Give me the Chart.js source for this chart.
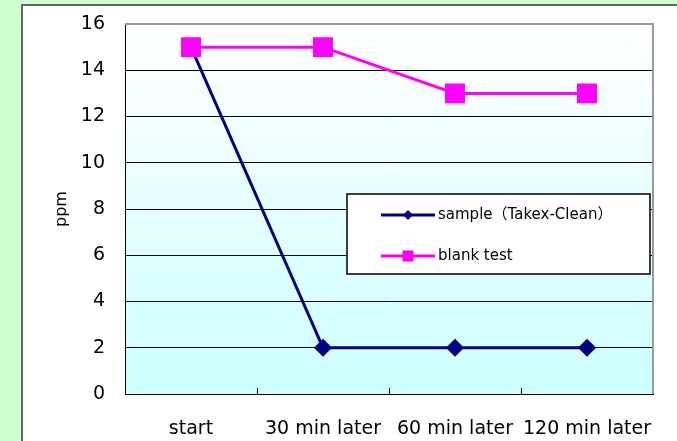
<!DOCTYPE html>
<html>
<head>
<meta charset="utf-8">
<script src="https://cdn.jsdelivr.net/npm/chart.js@4.4.0/dist/chart.umd.min.js"></script>
<style>
  html, body { margin: 0; padding: 0; background: #ccffcc; }
  #panel {
    position: absolute; left: 21px; top: 4px; width: 656px; height: 437px;
    background: #fff; border-left: 2px solid #666; border-top: 2px solid #666;
  }
  #wrap { position: absolute; left: 0; top: 0; width: 677px; height: 441px; }
</style>
</head>
<body>
<div id="panel"></div>
<div id="wrap"><canvas id="myChart" width="677" height="441"></canvas></div>
<script>
const categories = ['start', '30 min later', '60 min later', '120 min later'];
const sampleValues = [15, 2, 2, 2];
const blankValues = [15, 15, 13, 13];
const yTicks = [0, 2, 4, 6, 8, 10, 12, 14, 16];

const FONT = 'DejaVu Sans';

// fond dégradé de la zone du graphe + bord droit gris
const plotBg = {
  id: 'plotBg',
  beforeDraw(chart) {
    const { ctx, chartArea: a } = chart;
    const g = ctx.createLinearGradient(0, a.top, 0, a.bottom);
    g.addColorStop(0, '#ffffff');
    g.addColorStop(1, '#ccffff');
    ctx.save();
    ctx.fillStyle = g;
    ctx.fillRect(a.left, a.top, a.right - a.left, a.bottom - a.top);
    ctx.restore();
  },
  afterDraw(chart) {
    const { ctx, chartArea: a } = chart;
    ctx.save();
    ctx.strokeStyle = '#999';
    ctx.lineWidth = 2;
    ctx.beginPath();
    ctx.moveTo(a.left, a.top);
    ctx.lineTo(a.right, a.top);
    ctx.lineTo(a.right, a.bottom);
    ctx.stroke();
    ctx.restore();
  }
};

// légende dans un cadre, à l'intérieur du graphe
const boxLegend = {
  id: 'boxLegend',
  afterDraw(chart) {
    const { ctx, chartArea: a } = chart;
    const x = a.right - 306, y = a.top + 170, w = 303, h = 80;
    ctx.save();
    ctx.fillStyle = '#fff';
    ctx.fillRect(x, y, w, h);
    ctx.strokeStyle = '#000';
    ctx.lineWidth = 1.5;
    ctx.strokeRect(x, y, w, h);
    ctx.font = '15px "' + FONT + '", "Noto Sans CJK JP"';
    ctx.textBaseline = 'middle';
    const rows = [chart.data.datasets[0], chart.data.datasets[1]];
    rows.forEach((ds, i) => {
      const cy = y + 21 + i * 41;
      ctx.strokeStyle = ds.borderColor;
      ctx.lineWidth = 3;
      ctx.beginPath();
      ctx.moveTo(x + 34, cy);
      ctx.lineTo(x + 88, cy);
      ctx.stroke();
      ctx.fillStyle = ds.borderColor;
      const mx = x + 61;
      if (ds.pointStyle === 'rect') {
        ctx.fillRect(mx - 5.5, cy - 5.5, 11, 11);
      } else {
        ctx.beginPath();
        ctx.moveTo(mx, cy - 5);
        ctx.lineTo(mx + 5, cy);
        ctx.lineTo(mx, cy + 5);
        ctx.lineTo(mx - 5, cy);
        ctx.closePath();
        ctx.fill();
      }
      ctx.fillStyle = '#000';
      ctx.fillText(ds.label, x + 91, cy);
    });
    ctx.restore();
  }
};

let myChart;

const setup = () => {
  const ctxt = document.getElementById('myChart').getContext('2d');
  myChart = new Chart(ctxt, {
    type: 'line',
    data: {
      labels: [...categories],
      datasets: [
        {
          label: 'sample（Takex-Clean）',
          data: sampleValues,
          borderColor: '#000080',
          backgroundColor: '#000080',
          borderWidth: 3,
          pointStyle: 'rectRot',
          pointRadius: 7,
          pointHoverRadius: 7,
          tension: 0,
          order: 1
        },
        {
          label: 'blank test',
          data: blankValues,
          borderColor: '#ff00ff',
          backgroundColor: '#ff00ff',
          borderWidth: 3,
          pointStyle: 'rect',
          pointRadius: 12,
          pointHoverRadius: 12,
          tension: 0,
          order: 0
        }
      ]
    },
    options: {
      responsive: false,
      animation: false,
      events: [],
      layout: { padding: { left: 0, top: 24, right: 24, bottom: 0 } },
      plugins: { legend: { display: false }, tooltip: { enabled: false } },
      scales: {
        x: {
          offset: true,
          grid: { offset: true, drawOnChartArea: false, drawTicks: true, tickLength: -6, color: '#000', lineWidth: 1 },
          border: { color: '#000', width: 1 },
          ticks: { color: '#000', font: { family: FONT, size: 19 }, padding: 30, maxRotation: 0, autoSkip: false },
          afterFit: (s) => { s.height = 47; s.paddingLeft = 0; s.paddingRight = 0; }
        },
        y: {
          min: 0,
          max: 16,
          afterBuildTicks: (s) => { s.ticks = yTicks.map(v => ({ value: v })); },
          grid: {
            drawTicks: false,
            color: (c) => (c.tick && c.tick.value === 16 ? '#999' : '#000'),
            lineWidth: 1
          },
          border: { color: '#000', width: 1 },
          ticks: { color: '#000', font: { family: FONT, size: 19 }, padding: 20 },
          title: { display: true, text: 'ppm', color: '#000', font: { family: FONT, size: 16 }, padding: { top: 52, bottom: 0 } },
          afterFit: (s) => { s.width = 125; s.paddingTop = 0; s.paddingBottom = 0; }
        }
      }
    },
    plugins: [plotBg, boxLegend]
  });
};

window.addEventListener('DOMContentLoaded', setup);
</script>
</body>
</html>
